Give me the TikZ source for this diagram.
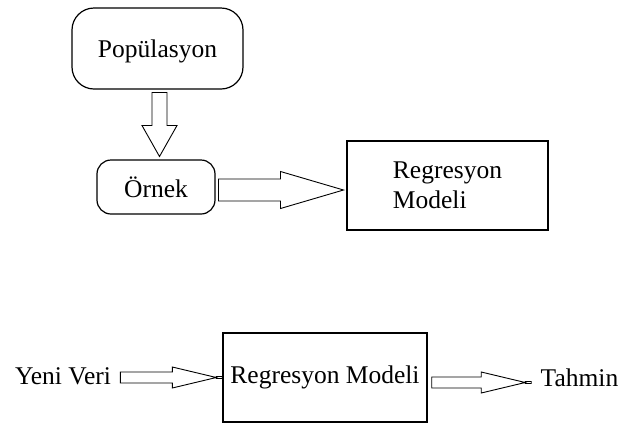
\documentclass[tikz,border=0pt]{standalone}
\usepackage{fontspec}
\setmainfont{Liberation Serif}
\usetikzlibrary{calc}
\tikzset{
  rbox/.style={draw, line width=1.2pt, rounded corners=#1, inner sep=0pt, outer sep=3.5pt},
  sbox/.style={draw, line width=1.4pt, inner sep=0pt},
  lbl/.style={inner sep=0pt, outer sep=9.5pt},
  % hollow block arrows: shaft half width, head half width, head length (, stub)
  harrow/.style n args={4}{line width=0.9pt, to path={
    let \p1=(\tikztostart), \p2=(\tikztotarget) in
    (\x1,\y1+#1) -- (\x2-#4-#3,\y1+#1) -- (\x2-#4-#3,\y1+#2) -- (\x2-#4,\y1)
    -- (\x2-#4-#3,\y1-#2) -- (\x2-#4-#3,\y1-#1) -- (\x1,\y1-#1) -- cycle
    (\x2-#4,\y1-#4/6) rectangle (\x2,\y1+#4/6)}},
  varrow/.style n args={3}{line width=0.9pt, to path={
    let \p1=(\tikztostart), \p2=(\tikztotarget) in
    (\x1-#1,\y1) -- (\x1-#1,\y2+#3) -- (\x1-#2,\y2+#3) -- (\x1,\y2)
    -- (\x1+#2,\y2+#3) -- (\x1+#1,\y2+#3) -- (\x1+#1,\y1) -- cycle}}
}
\begin{document}
\begin{tikzpicture}[x=1pt, y=-1pt, font=\fontsize{25.5}{30}\selectfont]
  \useasboundingbox (0,0) rectangle (619,424);
  \node[rbox=22pt, minimum width=171pt, minimum height=81pt, text depth=0pt] (pop) at (157.5,48.5) {Popülasyon};
  \node[rbox=14pt, minimum width=118pt, minimum height=54pt] (orn) at (156,187) {Örnek};
  \node[sbox, outer sep=3.5pt, minimum width=201pt, minimum height=89pt, align=left]
    (mod1) at (447.5,185.5) {Regresyon\\Modeli};
  \node[lbl] (yeni) at (63,376) {Yeni Veri};
  \node[sbox, minimum width=204pt, minimum height=89pt] (mod2) at (325,377.5) {Regresyon Modeli};
  \node[lbl] (tahmin) at (579.5,378) {Tahmin};
  \draw[varrow={7.5}{17.5}{31}] ([xshift=2pt]pop.south) to (orn.north);
  \draw[harrow={11}{18.5}{63}{0}] ([yshift=-3pt]orn.east) to (mod1.west);
  \draw[harrow={5.5}{10.5}{44}{6}] ([yshift=-1.5pt]yeni.east) to (mod2.west);
  \draw[harrow={5.5}{10.5}{44}{6}] ([shift={(4,5)}]mod2.east) to (tahmin.west);
\end{tikzpicture}
\end{document}
